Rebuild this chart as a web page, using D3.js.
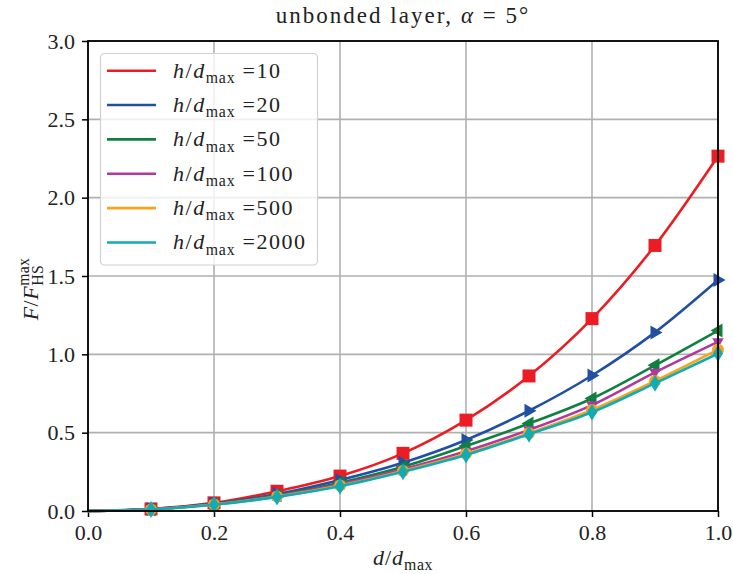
<!DOCTYPE html>
<html>
<head>
<meta charset="utf-8">
<script src="https://cdn.jsdelivr.net/npm/d3@7"></script>
<style>
  html, body { margin: 0; padding: 0; background: #fff; }
  svg { display: block; }
  text { font-family: "Liberation Serif", "DejaVu Serif", serif; fill: #222; }
</style>
</head>
<body>
<svg id="chart" width="733" height="574"></svg>
<script>
// Normalised displacement d/d_max at which the force was sampled
const dValues = [0.1, 0.2, 0.3, 0.4, 0.5, 0.6, 0.7, 0.8, 0.9, 1.0];

// Layer thickness ratios h/d_max (one curve each)
const hRatios = ["10", "20", "50", "100", "500", "2000"];

// F / F_HS^max for each layer thickness
const force10   = [0.013, 0.052, 0.126, 0.223, 0.368, 0.580, 0.862, 1.228, 1.695, 2.265];
const force20   = [0.012, 0.048, 0.108, 0.198, 0.308, 0.453, 0.640, 0.865, 1.140, 1.474];
const force50   = [0.011, 0.045, 0.100, 0.180, 0.282, 0.415, 0.558, 0.718, 0.930, 1.152];
const force100  = [0.011, 0.043, 0.096, 0.170, 0.266, 0.382, 0.518, 0.676, 0.885, 1.080];
const force500  = [0.010, 0.041, 0.092, 0.163, 0.256, 0.365, 0.497, 0.645, 0.830, 1.030];
const force2000 = [0.010, 0.040, 0.090, 0.158, 0.250, 0.357, 0.490, 0.630, 0.815, 1.005];

// Axis ticks
const xTicks = [0.0, 0.2, 0.4, 0.6, 0.8, 1.0];
const yTicks = [0.0, 0.5, 1.0, 1.5, 2.0, 2.5, 3.0];

const seriesValues = [force10, force20, force50, force100, force500, force2000];
const colors = ["#ec1c24", "#2150a2", "#108040", "#b0389e", "#f8a31c", "#12abb2"];
const markers = ["square", "triRight", "triLeft", "triDown", "circle", "thinDiamond"];

const series = hRatios.map((h, i) => ({
  h, color: colors[i], marker: markers[i],
  points: dValues.map((d, j) => ({ d, f: seriesValues[i][j] }))
}));

const svg = d3.select("#chart");
const M = { left: 88, right: 718, top: 41, bottom: 511 };

const x = d3.scaleLinear().domain([0, 1]).range([M.left, M.right]);
const y = d3.scaleLinear().domain([0, 3]).range([M.bottom, M.top]);

// Grid
const grid = svg.append("g");
grid.selectAll("line.gx").data(xTicks).join("line")
  .attr("x1", d => x(d)).attr("x2", d => x(d))
  .attr("y1", M.top).attr("y2", M.bottom)
  .attr("stroke", "#b0b0b0").attr("stroke-width", 1.6);
grid.selectAll("line.gy").data(yTicks).join("line")
  .attr("y1", d => y(d)).attr("y2", d => y(d))
  .attr("x1", M.left).attr("x2", M.right)
  .attr("stroke", "#b0b0b0").attr("stroke-width", 1.6);

// Axes
const xAxis = d3.axisBottom(x).tickValues(xTicks).tickFormat(d3.format(".1f")).tickSizeOuter(0).tickSize(6).tickPadding(8);
const yAxis = d3.axisLeft(y).tickValues(yTicks).tickFormat(d3.format(".1f")).tickSizeOuter(0).tickSize(6).tickPadding(7);

const gx = svg.append("g").attr("transform", `translate(0,${M.bottom})`).call(xAxis);
const gy = svg.append("g").attr("transform", `translate(${M.left},0)`).call(yAxis);
[gx, gy].forEach(g => {
  g.select(".domain").remove();
  g.selectAll(".tick line").attr("stroke", "#000").attr("stroke-width", 1.5);
  g.selectAll(".tick text").attr("font-size", 22).attr("fill", "#222")
    .style("font-family", '"Liberation Serif", serif');
});
gy.selectAll(".tick text").attr("dy", "0.33em");
gx.selectAll(".tick text").attr("dy", "0.68em");

// Marker shapes
function markerPath(type) {
  switch (type) {
    case "square": return "M-6.5,-6.5H6.5V6.5H-6.5Z";
    case "triRight": return "M7.5,0L-4.5,-7L-4.5,7Z";
    case "triLeft": return "M-7.5,0L4.5,-7L4.5,7Z";
    case "triDown": return "M0,6.5L-5.8,-3.5L5.8,-3.5Z";
    case "circle": return "M6,0A6,6 0 1,1 -6,0A6,6 0 1,1 6,0Z";
    case "thinDiamond": return "M0,-8.5L5,0L0,8.5L-5,0Z";
  }
}

const line = d3.line().x(p => x(p.d)).y(p => y(p.f)).curve(d3.curveMonotoneX);

const plot = svg.append("g");
series.forEach(s => {
  const g = plot.append("g");
  g.append("path")
    .datum([{ d: 0, f: 0 }, ...s.points])
    .attr("d", line)
    .attr("fill", "none").attr("stroke", s.color).attr("stroke-width", 2.6);
  g.selectAll("path.m").data(s.points).join("path")
    .attr("class", "m")
    .attr("transform", p => `translate(${x(p.d)},${y(p.f)})`)
    .attr("d", markerPath(s.marker))
    .attr("fill", s.color);
});

// Frame
svg.append("rect")
  .attr("x", M.left).attr("y", M.top)
  .attr("width", M.right - M.left).attr("height", M.bottom - M.top)
  .attr("fill", "none").attr("stroke", "#000").attr("stroke-width", 1.8);

// Math-style label builder: pieces laid out left to right
function mathText(parent, pieces, fs, spacing = 0) {
  const g = parent.append("g");
  let cx = 0;
  let subStart = null, subW = 0;
  pieces.forEach(p => {
    const size = p.script ? fs * 0.72 : fs;
    let dy = 0;
    if (p.script === "sub") dy = fs * 0.24;
    if (p.script === "sup") dy = -fs * 0.42;
    const startX = (p.stack && subStart !== null) ? subStart : cx;
    const t = g.append("text")
      .attr("x", startX).attr("y", dy)
      .attr("font-size", size)
      .attr("font-style", p.it ? "italic" : "normal")
      .attr("letter-spacing", p.script ? spacing * 0.6 : spacing)
      .attr("fill", "#222")
      .attr("xml:space", "preserve")
      .text(p.t);
    const w = t.node().getComputedTextLength();
    if (p.script === "sub") { subStart = cx; subW = w; cx += w; }
    else if (p.stack) { cx = Math.max(subStart + subW, startX + w); }
    else cx = startX + w;
  });
  return { g, width: cx };
}

// Title
{
  const { g, width } = mathText(svg, [
    { t: "unbonded layer, " },
    { t: "α", it: true },
    { t: " = 5°" }
  ], 23, 2);
  g.attr("transform", `translate(${(M.left + M.right) / 2 - width / 2},23)`);
}

// X label
{
  const { g, width } = mathText(svg, [
    { t: "d", it: true }, { t: "/" }, { t: "d", it: true }, { t: "max", script: "sub" }
  ], 22, 1);
  g.attr("transform", `translate(${(M.left + M.right) / 2 - width / 2},565)`);
}

// Y label
{
  const { g, width } = mathText(svg, [
    { t: "F", it: true }, { t: "/" }, { t: "F", it: true },
    { t: "HS", script: "sub" }, { t: "max", script: "sup", stack: true }
  ], 22, 0.5);
  g.attr("transform", `translate(38,${289}) rotate(-90) translate(${-width / 2},0)`);
}

// Legend
const legend = svg.append("g");
legend.append("rect")
  .attr("x", 100.5).attr("y", 53.5).attr("width", 217).attr("height", 211.5)
  .attr("rx", 4).attr("ry", 4)
  .attr("fill", "#fff").attr("fill-opacity", 0.8)
  .attr("stroke", "#d0d0d0").attr("stroke-width", 1.2);

series.forEach((s, i) => {
  const cy = 70.7 + i * 34.35;
  legend.append("line")
    .attr("x1", 107).attr("x2", 156).attr("y1", cy).attr("y2", cy)
    .attr("stroke", s.color).attr("stroke-width", 2.6);
  const { g } = mathText(legend, [
    { t: "h", it: true }, { t: "/" }, { t: "d", it: true }, { t: "max", script: "sub" },
    { t: " =" + s.h }
  ], 22, 1.5);
  g.attr("transform", `translate(173,${cy + 7})`);
});
</script>
</body>
</html>
